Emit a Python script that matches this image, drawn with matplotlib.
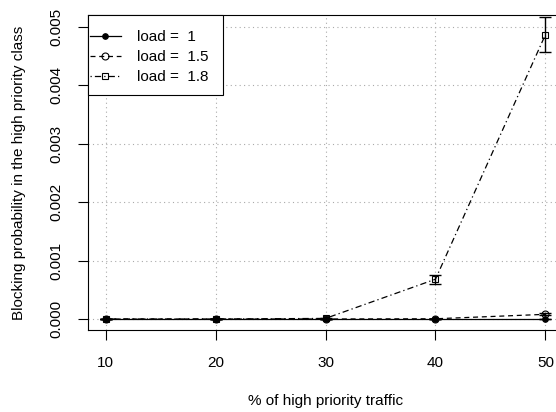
import matplotlib
matplotlib.use("Agg")
from matplotlib import pyplot as plt
from matplotlib.patches import Rectangle
import numpy as np

plt.rcParams['font.family'] = ['Liberation Sans', 'DejaVu Sans']

traffic = [10, 20, 30, 40, 50]

# blocking probability in the high priority class, per load
block_1 = [0.0, 0.0, 0.0, 0.0, 0.0]
block_15 = [0.0, 0.0, 0.0, 0.000004, 0.00008]
block_18 = [0.0, 0.0, 0.00001, 0.00068, 0.00486]

# confidence half widths
err_1 = [0.0, 0.0, 0.0, 0.0, 0.0]
err_15 = [0.0, 0.0, 0.0, 0.000003, 0.00002]
err_18 = [0.0, 0.0, 0.000005, 0.00008, 0.0003]

W, H = 556, 412
fig = plt.figure(figsize=(W / 100, H / 100), dpi=100)
ax = fig.add_axes([88 / W, 1 - 330 / H, 475 / W, 315 / H])

series = [
    (block_1, err_1, '-', 'o', 'black', 'load =  1', 4),
    (block_15, err_15, (0, (4, 3)), 'o', 'none', 'load =  1.5', 5),
    (block_18, err_18, (0, (1, 2.5, 5, 2.5)), 's', 'none', 'load =  1.8', 5),
]

handles = []
for vals, errs, ls, mk, fc, lab, ms in series:
    ax.errorbar(traffic, vals, yerr=errs, fmt='none', ecolor='black',
                elinewidth=1, capsize=4.3, capthick=1)
    h, = ax.plot(traffic, vals, linestyle=ls, marker=mk, color='black',
                 markerfacecolor=fc, markeredgecolor='black', markersize=ms,
                 linewidth=0.9, markeredgewidth=0.8, label=lab)
    handles.append(h)

ax.set_xlim(8.4, 51.6)
ax.set_ylim(-0.000188, 0.005197)
ax.set_xticks([10, 20, 30, 40, 50])
ax.set_yticks([0, 0.001, 0.002, 0.003, 0.004, 0.005])
ax.set_yticklabels(['0.000', '0.001', '0.002', '0.003', '0.004', '0.005'],
                   rotation=90, va='center')
ax.tick_params(direction='out', length=7, width=0.8, labelsize=11)
ax.tick_params(axis='x', pad=11.5)
ax.tick_params(axis='y', pad=11)

ax.grid(True, color='#aaaaaa', linestyle=(0, (1, 3)), linewidth=0.8)
for s in ax.spines.values():
    s.set_linewidth(0.8)

fig.text(325.5 / W, 1 - 401 / H, '% of high priority traffic',
         fontsize=11, ha='center', va='center')
fig.text(19 / W, 1 - 172.5 / H,
         'Blocking probability in the high priority class',
         fontsize=11, ha='center', va='center', rotation=90)

# legend box, drawn separately so the top inset can be taller than the sides
box = Rectangle((88 / W, 1 - 95 / H), 135 / W, 80 / H, transform=fig.transFigure,
                facecolor='white', edgecolor='black', linewidth=0.8,
                zorder=4.9, clip_on=False)
ax.add_patch(box)

leg = ax.legend(handles=handles, loc='upper left', fontsize=11,
                frameon=False, borderaxespad=0, borderpad=0,
                bbox_to_anchor=(90 / W, 1 - 30 / H),
                bbox_transform=fig.transFigure,
                handlelength=2.0, handletextpad=1.05, labelspacing=0.4)
leg.set_zorder(5)

fig.savefig('out.png', dpi=100)
